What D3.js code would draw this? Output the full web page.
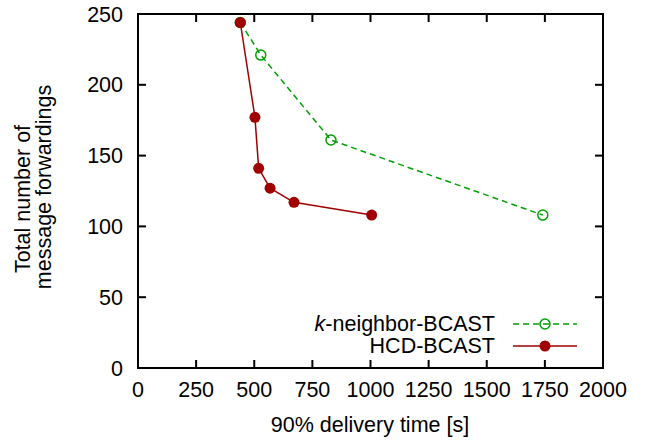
<!DOCTYPE html>
<html><head><meta charset="utf-8">
<script src="https://cdn.jsdelivr.net/npm/d3@7"></script>
<style>body{margin:0;background:#fff}svg{display:block}text{font-family:"Liberation Sans",Arial,sans-serif;fill:#000}</style>
</head><body>
<svg id="c" width="650" height="443"></svg>
<script>
const kNeighborX = [440, 528, 830, 1741];
const kNeighborY = [244, 221, 161, 108];
const hcdX = [440, 503, 519, 568, 671, 1005];
const hcdY = [244, 177, 141, 127, 117, 108];
const xTicks = [0, 250, 500, 750, 1000, 1250, 1500, 1750, 2000];
const yTicks = [0, 50, 100, 150, 200, 250];
const seriesNames = ["k-neighbor-BCAST", "HCD-BCAST"];

const svg = d3.select("#c");
const L = 138, R = 603, T = 14, B = 368;
const x = d3.scaleLinear().domain([0, 2000]).range([L, R]);
const y = d3.scaleLinear().domain([0, 250]).range([B, T]);
const fs = 21.5;

// ticks (inward, mirrored)
const tk = svg.append("g").attr("stroke", "#000").attr("stroke-width", 2);
xTicks.slice(1, -1).forEach(v => {
  tk.append("line").attr("x1", x(v)).attr("x2", x(v)).attr("y1", B).attr("y2", B - 8);
  tk.append("line").attr("x1", x(v)).attr("x2", x(v)).attr("y1", T).attr("y2", T + 8);
});
yTicks.slice(1, -1).forEach(v => {
  tk.append("line").attr("y1", y(v)).attr("y2", y(v)).attr("x1", L).attr("x2", L + 8);
  tk.append("line").attr("y1", y(v)).attr("y2", y(v)).attr("x1", R).attr("x2", R - 8);
});
// frame
svg.append("rect").attr("x", L).attr("y", T).attr("width", R - L).attr("height", B - T)
  .attr("fill", "none").attr("stroke", "#000").attr("stroke-width", 2);

// tick labels
svg.append("g").selectAll("text").data(xTicks).join("text")
  .attr("x", d => x(d)).attr("y", 397).attr("text-anchor", "middle")
  .attr("font-size", fs).text(d => d);
svg.append("g").selectAll("text").data(yTicks).join("text")
  .attr("x", 123).attr("y", d => y(d) + 7.5).attr("text-anchor", "end")
  .attr("font-size", fs).text(d => d);

// axis titles
svg.append("text").attr("x", 370).attr("y", 432).attr("text-anchor", "middle")
  .attr("font-size", fs).text("90% delivery time [s]");
svg.append("text").attr("transform", "translate(30,199) rotate(-90)")
  .attr("text-anchor", "middle").attr("font-size", fs).text("Total number of");
svg.append("text").attr("transform", "translate(51,187) rotate(-90)")
  .attr("text-anchor", "middle").attr("font-size", fs).text("message forwardings");

const green = "#00a000", red = "#a00000";
const kData = kNeighborX.map((v, i) => [v, kNeighborY[i]]);
const hData = hcdX.map((v, i) => [v, hcdY[i]]);
const line = d3.line().x(d => x(d[0])).y(d => y(d[1]));

svg.append("path").datum(kData).attr("d", line).attr("fill", "none")
  .attr("stroke", green).attr("stroke-width", 1.5).attr("stroke-dasharray", "6,4");
svg.append("path").datum(hData).attr("d", line).attr("fill", "none")
  .attr("stroke", red).attr("stroke-width", 1.5);
svg.append("g").selectAll("circle").data(kData).join("circle")
  .attr("cx", d => x(d[0])).attr("cy", d => y(d[1])).attr("r", 5)
  .attr("fill", "none").attr("stroke", green).attr("stroke-width", 1.5);
svg.append("g").selectAll("circle").data(hData).join("circle")
  .attr("cx", d => x(d[0])).attr("cy", d => y(d[1])).attr("r", 5.5)
  .attr("fill", red);

// legend
const lg = svg.append("g");
const ky = 324, hy = 346;
const kt = lg.append("text").attr("x", 495).attr("y", ky + 7).attr("text-anchor", "end").attr("font-size", fs);
kt.append("tspan").attr("font-style", "italic").text("k");
kt.append("tspan").text("-neighbor-BCAST");
lg.append("text").attr("x", 495).attr("y", hy + 7).attr("text-anchor", "end").attr("font-size", fs).text(seriesNames[1]);
lg.append("line").attr("x1", 513).attr("x2", 577).attr("y1", ky).attr("y2", ky)
  .attr("stroke", green).attr("stroke-width", 1.5).attr("stroke-dasharray", "6,4");
lg.append("circle").attr("cx", 545).attr("cy", ky).attr("r", 5).attr("fill", "none").attr("stroke", green).attr("stroke-width", 1.5);
lg.append("line").attr("x1", 513).attr("x2", 577).attr("y1", hy).attr("y2", hy)
  .attr("stroke", red).attr("stroke-width", 1.5);
lg.append("circle").attr("cx", 545).attr("cy", hy).attr("r", 5.5).attr("fill", red);
</script>
</body></html>
